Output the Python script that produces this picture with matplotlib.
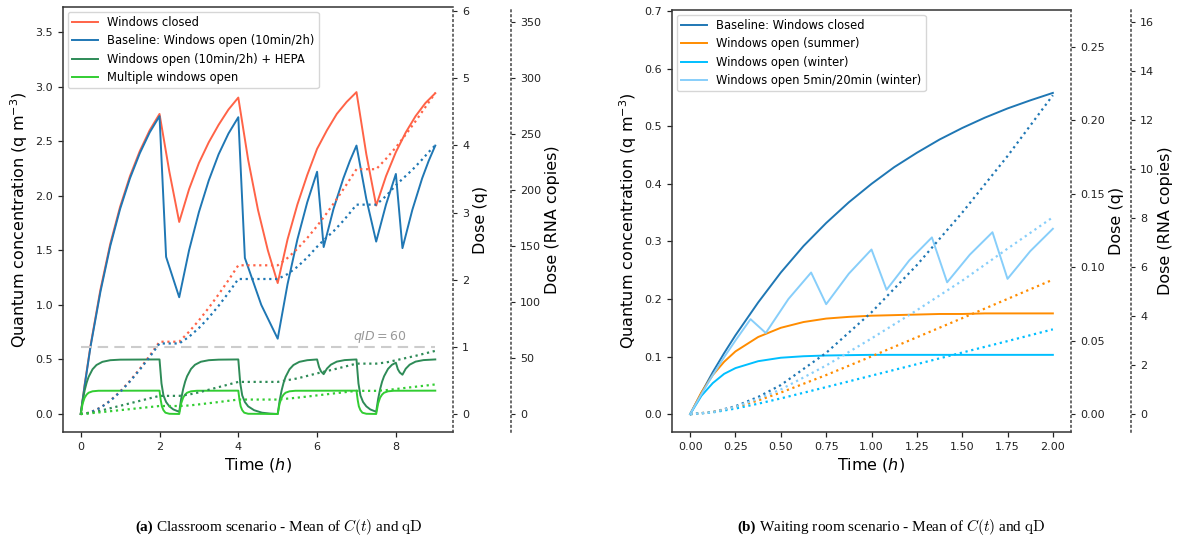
import matplotlib
matplotlib.use("Agg")
import matplotlib.pyplot as plt

# ---------------- (a) Classroom scenario ----------------
T_CLOSED = [0, 0.1, 0.25, 0.5, 0.75, 1.0, 1.25, 1.5, 1.75, 2.0, 2.25, 2.5, 2.75, 3.0, 3.25, 3.5, 3.75, 4.0,
            4.25, 4.5, 4.75, 5.0, 5.25, 5.5, 5.75, 6.0, 6.25, 6.5, 6.75, 7.0, 7.25, 7.5, 7.75, 8.0, 8.25, 8.5, 8.75, 9.0]
C_CLOSED = [0, 0.27, 0.63, 1.14, 1.56, 1.90, 2.18, 2.41, 2.60, 2.75, 2.22, 1.76, 2.06, 2.30, 2.49, 2.65, 2.79, 2.90,
            2.33, 1.87, 1.50, 1.20, 1.60, 1.92, 2.19, 2.43, 2.60, 2.75, 2.86, 2.95, 2.38, 1.91, 2.18, 2.40, 2.58, 2.73, 2.85, 2.94]
D_CLOSED = [0, 0.004, 0.026, 0.095, 0.20, 0.335, 0.495, 0.673, 0.868, 1.076, 1.076, 1.076, 1.225, 1.394, 1.581, 1.781, 1.992, 2.214,
            2.214, 2.214, 2.214, 2.214, 2.323, 2.46, 2.62, 2.799, 2.994, 3.201, 3.419, 3.645, 3.645, 3.645, 3.80, 3.97, 4.16, 4.36, 4.57, 4.78]

T_BASE = [0, 0.1, 0.25, 0.5, 0.75, 1.0, 1.25, 1.5, 1.75, 2.0, 2.167, 2.5, 2.75, 3.0, 3.25, 3.5, 3.75, 4.0,
          4.167, 4.583, 5.0, 5.25, 5.5, 5.75, 6.0, 6.167, 6.417, 6.667, 6.833, 7.0, 7.25, 7.5, 7.75, 8.0,
          8.167, 8.417, 8.667, 8.833, 9.0]
C_BASE = [0, 0.26, 0.62, 1.12, 1.54, 1.88, 2.16, 2.39, 2.58, 2.73, 1.44, 1.07, 1.50, 1.85, 2.14, 2.38, 2.57, 2.72,
          1.43, 1.00, 0.69, 1.19, 1.60, 1.94, 2.22, 1.53, 1.88, 2.16, 2.32, 2.46, 1.97, 1.58, 1.92, 2.20,
          1.52, 1.87, 2.16, 2.32, 2.46]
D_BASE = [0, 0.004, 0.025, 0.093, 0.196, 0.328, 0.485, 0.66, 0.85, 1.05, 1.05, 1.05, 1.15, 1.28, 1.435, 1.611, 1.804, 2.01,
          2.01, 2.01, 2.01, 2.083, 2.192, 2.33, 2.491, 2.588, 2.721, 2.878, 2.995, 3.117, 3.117, 3.117, 3.246, 3.406,
          3.50, 3.635, 3.79, 3.90, 4.0]

T_HEPA = [0, 0.05, 0.1, 0.15, 0.2, 0.3, 0.4, 0.55, 0.75, 1.0, 2.0,
          2.05, 2.1, 2.167, 2.25, 2.35, 2.5,
          2.55, 2.6, 2.65, 2.7, 2.8, 2.9, 3.05, 3.25, 3.5, 4.0,
          4.05, 4.1, 4.167, 4.25, 4.4, 4.6, 4.8, 5.0,
          5.05, 5.1, 5.15, 5.2, 5.3, 5.4, 5.55, 5.75, 6.0,
          6.05, 6.1, 6.167, 6.25, 6.35, 6.5, 6.7, 7.0,
          7.05, 7.1, 7.167, 7.25, 7.35, 7.5,
          7.55, 7.6, 7.65, 7.7, 7.8, 7.9, 8.0,
          8.05, 8.1, 8.167, 8.25, 8.35, 8.5, 8.7, 9.0]
C_HEPA = [0, 0.124, 0.217, 0.287, 0.34, 0.41, 0.449, 0.478, 0.493, 0.498, 0.5,
          0.28, 0.17, 0.11, 0.07, 0.042, 0.02,
          0.139, 0.228, 0.296, 0.346, 0.413, 0.451, 0.479, 0.493, 0.498, 0.5,
          0.28, 0.17, 0.11, 0.07, 0.035, 0.012, 0.004, 0.0,
          0.124, 0.217, 0.287, 0.34, 0.41, 0.449, 0.478, 0.493, 0.5,
          0.43, 0.39, 0.365, 0.416, 0.452, 0.48, 0.494, 0.5,
          0.28, 0.17, 0.11, 0.07, 0.042, 0.02,
          0.139, 0.228, 0.296, 0.346, 0.413, 0.451, 0.47,
          0.41, 0.38, 0.36, 0.415, 0.452, 0.48, 0.494, 0.5]

T_MULTI = [0, 0.05, 0.1, 0.15, 0.2, 0.3, 0.45, 2.0,
           2.03, 2.06, 2.1, 2.15, 2.25, 2.5,
           2.55, 2.6, 2.65, 2.7, 2.8, 2.95, 4.0,
           4.03, 4.06, 4.1, 4.15, 4.25, 5.0,
           5.05, 5.1, 5.15, 5.2, 5.3, 5.45, 7.0,
           7.03, 7.06, 7.1, 7.15, 7.25, 7.5,
           7.55, 7.6, 7.65, 7.7, 7.8, 7.95, 9.0]
C_MULTI = [0, 0.097, 0.15, 0.178, 0.195, 0.208, 0.213, 0.214,
           0.13, 0.07, 0.035, 0.012, 0.002, 0.0,
           0.097, 0.15, 0.178, 0.195, 0.208, 0.213, 0.214,
           0.13, 0.07, 0.035, 0.012, 0.002, 0.0,
           0.097, 0.15, 0.178, 0.195, 0.208, 0.213, 0.214,
           0.13, 0.07, 0.035, 0.012, 0.002, 0.0,
           0.097, 0.15, 0.178, 0.195, 0.208, 0.213, 0.214]

T_GREEN_D = [0, 0.25, 0.5, 1.0, 1.5, 2.0, 2.5, 2.75, 3.0, 3.5, 4.0, 5.0, 5.5, 6.0, 6.5, 7.0, 7.5, 7.75, 8.0, 8.5, 9.0]
D_HEPA = [0, 0.017, 0.049, 0.122, 0.196, 0.27, 0.27, 0.29, 0.322, 0.40, 0.478, 0.478, 0.53, 0.605, 0.675, 0.75,
          0.75, 0.767, 0.80, 0.866, 0.94]
D_MULTI = [0, 0.011, 0.026, 0.057, 0.088, 0.119, 0.119, 0.127, 0.143, 0.178, 0.215, 0.215, 0.243, 0.277, 0.311, 0.345,
           0.345, 0.355, 0.372, 0.406, 0.44]

QID_DOSE_Q = 1.0
QID_T0, QID_T1 = 0.0, 9.0
QID_LABEL = r"$qID = 60$"

LABELS_A = ["Windows closed", "Baseline: Windows open (10min/2h)",
            "Windows open (10min/2h) + HEPA", "Multiple windows open"]
XTICKS_A = [0, 2, 4, 6, 8]
YTICKS_A = [0.0, 0.5, 1.0, 1.5, 2.0, 2.5, 3.0, 3.5]
DOSEQ_TICKS_A = [0, 1, 2, 3, 4, 5, 6]
RNA_TICKS_A = [0, 50, 100, 150, 200, 250, 300, 350]

# ---------------- (b) Waiting room scenario ----------------
T_WR = [0, 0.0625, 0.125, 0.1875, 0.25, 0.375, 0.5, 0.625, 0.75, 0.875, 1.0, 1.125, 1.25, 1.375, 1.5,
        1.625, 1.75, 1.875, 2.0]
C_WR_CLOSED = [0, 0.037, 0.073, 0.106, 0.137, 0.194, 0.246, 0.292, 0.332, 0.368, 0.400, 0.429, 0.454, 0.477,
               0.497, 0.515, 0.531, 0.545, 0.558]
C_WR_SUMMER = [0, 0.038, 0.068, 0.091, 0.109, 0.134, 0.150, 0.160, 0.166, 0.169, 0.171, 0.172, 0.173, 0.174,
               0.174, 0.175, 0.175, 0.175, 0.175]
C_WR_WINTER = [0, 0.032, 0.054, 0.070, 0.080, 0.092, 0.098, 0.1006, 0.1019, 0.1025, 0.103, 0.103, 0.103, 0.103,
               0.103, 0.103, 0.103, 0.103, 0.103]
T_WR_CYCLE = [0, 0.0625, 0.125, 0.1875, 0.25, 0.333, 0.417, 0.542, 0.667, 0.75, 0.875, 1.0, 1.083, 1.208,
              1.333, 1.417, 1.542, 1.667, 1.75, 1.875, 2.0]
C_WR_CYCLE = [0, 0.035, 0.068, 0.099, 0.128, 0.165, 0.141, 0.200, 0.246, 0.191, 0.244, 0.286, 0.216, 0.267,
              0.307, 0.229, 0.277, 0.316, 0.235, 0.283, 0.322]

T_WR_D = [0, 0.125, 0.25, 0.375, 0.5, 0.75, 1.0, 1.25, 1.5, 1.75, 2.0]
D_WR_CLOSED = [0, 0.0014, 0.0054, 0.0117, 0.0198, 0.0417, 0.0693, 0.1014, 0.1371, 0.1756, 0.217]
D_WR_SUMMER = [0, 0.0014, 0.0047, 0.0093, 0.0147, 0.0266, 0.0393, 0.0523, 0.0653, 0.0784, 0.0915]
D_WR_WINTER = [0, 0.0012, 0.0038, 0.0071, 0.0107, 0.0184, 0.0262, 0.034, 0.0419, 0.0497, 0.0577]
D_WR_CYCLE = [0, 0.0013, 0.005, 0.0105, 0.0168, 0.0331, 0.0515, 0.0707, 0.0908, 0.1126, 0.134]

LABELS_B = ["Baseline: Windows closed", "Windows open (summer)", "Windows open (winter)",
            "Windows open 5min/20min (winter)"]
XTICKS_B = [0.0, 0.25, 0.5, 0.75, 1.0, 1.25, 1.5, 1.75, 2.0]
YTICKS_B = [0.0, 0.1, 0.2, 0.3, 0.4, 0.5, 0.6, 0.7]
DOSEQ_TICKS_B = [0.0, 0.05, 0.10, 0.15, 0.20, 0.25]
RNA_TICKS_B = [0, 2, 4, 6, 8, 10, 12, 14, 16]

RNA_PER_Q = 60

CAPTION_A = ("(a)", r"Classroom scenario - Mean of $C(t)$ and $\mathrm{qD}$")
CAPTION_B = ("(b)", r"Waiting room scenario - Mean of $C(t)$ and $\mathrm{qD}$")

# ---------------- styling ----------------
W, H = 1182, 541
TICK_FS = 8.0
LABEL_FS = 11.5
LEG_FS = 8.3
CAP_FS = 11
LW = 1.4
SPINE_C = "#333333"

fig = plt.figure(figsize=(W / 100, H / 100), dpi=100)


def frac(x0, y_top, x1, y_bot):
    return [x0 / W, 1 - y_bot / H, (x1 - x0) / W, (y_bot - y_top) / H]


def build(rect, offset, ylim, dose_top_ratio):
    ax = fig.add_axes(rect)
    axq = ax.twinx()
    axr = ax.twinx()
    axr.spines["right"].set_position(("axes", offset))
    ax.spines["right"].set_visible(False)
    for s in ("left", "bottom", "top"):
        ax.spines[s].set_color(SPINE_C)
        ax.spines[s].set_linewidth(1.1)
    for t in (axq, axr):
        for s in ("left", "top", "bottom"):
            t.spines[s].set_visible(False)
        t.spines["right"].set_linestyle((0, (1, 2.2)))
        t.spines["right"].set_color("#444444")
        t.spines["right"].set_linewidth(1.1)
        t.tick_params(axis="y", labelsize=TICK_FS, length=3, width=0.8, colors="#222222")
    ax.tick_params(labelsize=TICK_FS, length=3.5, width=0.9, colors="#222222")
    ax.set_ylim(*ylim)
    qlim = (ylim[0] * dose_top_ratio, ylim[1] * dose_top_ratio)
    axq.set_ylim(*qlim)
    axr.set_ylim(qlim[0] * RNA_PER_Q, qlim[1] * RNA_PER_Q)
    return ax, axq, axr


# ---- panel a ----
axA, axAq, axAr = build(frac(63, 7, 453, 432), 1 + 58 / 390, (-0.165, 3.73), 6.06 / 3.73)
axA.set_xlim(-0.45, 9.45)
cols_a = ["tomato", "#1f77b4", "seagreen", "limegreen"]
axA.plot(T_CLOSED, C_CLOSED, color=cols_a[0], lw=LW, label=LABELS_A[0])
axA.plot(T_BASE, C_BASE, color=cols_a[1], lw=LW, label=LABELS_A[1])
axA.plot(T_HEPA, C_HEPA, color=cols_a[2], lw=LW, label=LABELS_A[2])
axA.plot(T_MULTI, C_MULTI, color=cols_a[3], lw=LW, label=LABELS_A[3])
axAq.plot(T_CLOSED, D_CLOSED, color=cols_a[0], lw=1.6, ls=":")
axAq.plot(T_BASE, D_BASE, color=cols_a[1], lw=1.6, ls=":")
axAq.plot(T_GREEN_D, D_HEPA, color=cols_a[2], lw=1.6, ls=":")
axAq.plot(T_GREEN_D, D_MULTI, color=cols_a[3], lw=1.6, ls=":")
axAq.hlines(QID_DOSE_Q, QID_T0, QID_T1, colors="#cccccc", linestyles=(0, (5, 3)), lw=1.5)
axAq.text(7.6, 1.15, QID_LABEL, color="#999999", fontsize=9, ha="center", va="center")
axA.set_xticks(XTICKS_A)
axA.set_yticks(YTICKS_A)
axAq.set_yticks(DOSEQ_TICKS_A)
axAr.set_yticks(RNA_TICKS_A)
axA.set_xlabel("Time ($h$)", fontsize=LABEL_FS, labelpad=3)
axA.set_ylabel("Quantum concentration (q m$^{-3}$)", fontsize=LABEL_FS, labelpad=4)
axAq.set_ylabel("Dose (q)", fontsize=LABEL_FS, labelpad=3)
axAr.set_ylabel("Dose (RNA copies)", fontsize=LABEL_FS, labelpad=3)
axA.legend(loc="upper left", fontsize=LEG_FS, borderaxespad=0.4, handlelength=2.2, labelspacing=0.45)

# ---- panel b ----
axB, axBq, axBr = build(frac(672, 10, 1071, 432), 1 + 60 / 399, (-0.031, 0.702), 0.275 / 0.702)
axB.set_xlim(-0.1, 2.1)
cols_b = ["#1f77b4", "darkorange", "deepskyblue", "lightskyblue"]
axB.plot(T_WR, C_WR_CLOSED, color=cols_b[0], lw=LW, label=LABELS_B[0])
axB.plot(T_WR, C_WR_SUMMER, color=cols_b[1], lw=LW, label=LABELS_B[1])
axB.plot(T_WR, C_WR_WINTER, color=cols_b[2], lw=LW, label=LABELS_B[2])
axB.plot(T_WR_CYCLE, C_WR_CYCLE, color=cols_b[3], lw=LW, label=LABELS_B[3])
axBq.plot(T_WR_D, D_WR_CLOSED, color=cols_b[0], lw=1.6, ls=":")
axBq.plot(T_WR_D, D_WR_SUMMER, color=cols_b[1], lw=1.6, ls=":")
axBq.plot(T_WR_D, D_WR_WINTER, color=cols_b[2], lw=1.6, ls=":")
axBq.plot(T_WR_D, D_WR_CYCLE, color=cols_b[3], lw=1.6, ls=":")
axB.set_xticks(XTICKS_B)
axB.set_yticks(YTICKS_B)
axBq.set_yticks(DOSEQ_TICKS_B)
axBr.set_yticks(RNA_TICKS_B)
axB.set_xlabel("Time ($h$)", fontsize=LABEL_FS, labelpad=3)
axB.set_ylabel("Quantum concentration (q m$^{-3}$)", fontsize=LABEL_FS, labelpad=4)
axBq.set_ylabel("Dose (q)", fontsize=LABEL_FS, labelpad=3)
axBr.set_ylabel("Dose (RNA copies)", fontsize=LABEL_FS, labelpad=3)
axB.legend(loc="upper left", fontsize=LEG_FS, borderaxespad=0.4, handlelength=2.2, labelspacing=0.45)


# ---- captions ----
def caption(x_left_px, parts):
    y = 1 - 527 / H
    tag = fig.text(x_left_px / W, y, parts[0], ha="left", va="center", fontsize=CAP_FS,
                   family="Liberation Serif", weight="bold")
    fig.canvas.draw()
    bb = tag.get_window_extent()
    fig.text((bb.x1 + 3.5) / W, y, parts[1], ha="left", va="center", fontsize=CAP_FS,
             family="Liberation Serif", math_fontfamily="cm")


caption(135, CAPTION_A)
caption(737, CAPTION_B)

fig.savefig("out.png", dpi=100, facecolor="white")
